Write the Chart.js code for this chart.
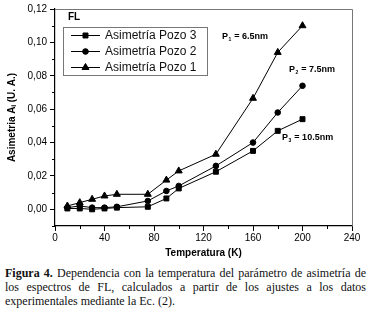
<!DOCTYPE html>
<html>
<head>
<meta charset="utf-8">
<script src="https://cdn.jsdelivr.net/npm/chart.js@4/dist/chart.umd.min.js"></script>
<style>
  html, body { margin: 0; padding: 0; background: #fff; }
  #wrap { position: relative; width: 372px; height: 262px; }
  #cap { font-family: "Liberation Serif", "Times New Roman", serif; font-size: 12px; line-height: 14px; color: #111; margin: 4px 6px 0 5px; }
  #cap div { text-align: justify; text-align-last: justify; white-space: nowrap; }
  #cap div.last { text-align-last: left; }
</style>
</head>
<body>
<div id="wrap"><canvas id="c" width="372" height="262"></canvas></div>
<div id="cap">
  <div><b>Figura 4.</b> Dependencia con la temperatura del parámetro de asimetría de</div>
  <div>los espectros de FL, calculados a partir de los ajustes a los datos</div>
  <div class="last">experimentales mediante la Ec. (2).</div>
</div>
<script>
const temps = [10, 20, 30, 40, 50, 75, 90, 100, 130, 160, 180, 200];
const pozo1 = [0.002, 0.004, 0.006, 0.008, 0.009, 0.009, 0.0175, 0.023, 0.033, 0.0665, 0.094, 0.110];
const pozo2 = [0.001, 0.002, 0.001, 0.001, 0.0015, 0.005, 0.011, 0.014, 0.026, 0.040, 0.058, 0.074];
const pozo3 = [0.0005, 0.0005, 0.000, 0.0005, 0.001, 0.0015, 0.0065, 0.0125, 0.0225, 0.035, 0.047, 0.054];
const xTicks = [0, 40, 80, 120, 160, 200, 240];
const yTicks = [0.00, 0.02, 0.04, 0.06, 0.08, 0.10, 0.12];
const xMinor = [20, 60, 100, 140, 180, 220];
const yMinor = [-0.01, 0.01, 0.03, 0.05, 0.07, 0.09, 0.11];
const seriesNames = ["Asimetría Pozo 1", "Asimetría Pozo 2", "Asimetría Pozo 3"];
const seriesShapes = ["triangle", "circle", "rect"];
const wellLabels = [
  { sub: "1", text: " = 6.5nm", x: 135, y: 0.1035 },
  { sub: "2", text: " = 7.5nm", x: 189, y: 0.0835 },
  { sub: "3", text: " = 10.5nm", x: 183.5, y: 0.043 }
];

const pts = arr => temps.map((t, i) => ({ x: t, y: arr[i] }));
const radii = { triangle: 4, circle: 2.8, rect: 3.5 };

function drawMarker(ctx, shape, x, y) {
  Chart.helpers.drawPoint(ctx, { pointStyle: shape, radius: radii[shape], rotation: 0, borderWidth: 1 }, x, y);
  ctx.fill();
}

const extras = {
  id: 'extras',
  afterDraw(chart) {
    const ctx = chart.ctx;
    const a = chart.chartArea;
    const xs = chart.scales.x, ys = chart.scales.y;
    ctx.save();
    // frame top & right
    ctx.strokeStyle = '#777';
    ctx.lineWidth = 1;
    ctx.beginPath();
    ctx.moveTo(a.left, a.top + 0.5); ctx.lineTo(a.right + 0.5, a.top + 0.5);
    ctx.lineTo(a.right + 0.5, a.bottom);
    ctx.stroke();
    // minor ticks
    ctx.strokeStyle = '#000';
    ctx.beginPath();
    xMinor.forEach(v => { const px = Math.round(xs.getPixelForValue(v)) + 0.5; ctx.moveTo(px, a.bottom); ctx.lineTo(px, a.bottom + 3); });
    yMinor.forEach(v => { const py = Math.round(ys.getPixelForValue(v)) + 0.5; ctx.moveTo(a.left, py); ctx.lineTo(a.left - 3, py); });
    ctx.stroke();
    // FL label
    ctx.fillStyle = '#000';
    ctx.font = 'bold 10px "Liberation Sans", Arial, sans-serif';
    ctx.textBaseline = 'middle';
    ctx.textAlign = 'left';
    ctx.fillText('FL', 68, 17);
    // legend box
    ctx.strokeStyle = '#777';
    ctx.strokeRect(63.5, 27.5, 144, 48);
    const order = [2, 1, 0];
    ctx.font = '12px "Liberation Sans", Arial, sans-serif';
    order.forEach((si, k) => {
      const y = 35 + k * 16;
      ctx.strokeStyle = '#000';
      ctx.beginPath();
      ctx.moveTo(71, y + 0.5); ctx.lineTo(100, y + 0.5);
      ctx.stroke();
      ctx.fillStyle = '#000';
      ctx.strokeStyle = '#000';
      drawMarker(ctx, seriesShapes[si], 85.5, y + 0.5);
      ctx.fillStyle = '#111';
      ctx.fillText(seriesNames[si], 105, y + 1);
    });
    // well-width labels
    wellLabels.forEach(l => {
      const px = xs.getPixelForValue(l.x), py = ys.getPixelForValue(l.y);
      ctx.font = 'bold 9px "Liberation Sans", Arial, sans-serif';
      ctx.fillStyle = '#000';
      ctx.fillText('P', px, py);
      const w = ctx.measureText('P').width;
      ctx.font = 'bold 5px "Liberation Sans", Arial, sans-serif';
      ctx.fillText(l.sub, px + w + 0.5, py + 3);
      const w2 = ctx.measureText(l.sub).width;
      ctx.font = 'bold 9px "Liberation Sans", Arial, sans-serif';
      ctx.fillText(l.text, px + w + w2 + 1, py);
    });
    ctx.restore();
  }
};

const mk = (i, arr) => ({
  label: seriesNames[i],
  data: pts(arr),
  borderColor: '#000',
  backgroundColor: '#000',
  borderWidth: 1,
  pointStyle: seriesShapes[i],
  pointRadius: radii[seriesShapes[i]],
  pointBorderWidth: 1,
  pointBackgroundColor: '#000',
  pointBorderColor: '#000',
  tension: 0,
  fill: false
});

new Chart(document.getElementById('c'), {
  type: 'line',
  data: { datasets: [mk(0, pozo1), mk(1, pozo2), mk(2, pozo3)] },
  plugins: [extras],
  options: {
    responsive: false,
    animation: false,
    devicePixelRatio: 1,
    layout: { padding: { left: 0, right: 20, top: 5, bottom: 0 } },
    plugins: { legend: { display: false }, tooltip: { enabled: false } },
    scales: {
      x: {
        type: 'linear', min: 0, max: 240,
        afterBuildTicks: s => { s.ticks = xTicks.map(v => ({ value: v })); },
        afterFit: s => { s.height = 36; },
        grid: { drawOnChartArea: false, drawTicks: true, tickLength: 5, color: '#000' },
        border: { color: '#000', width: 1.2 },
        ticks: { color: '#000', padding: 1, maxRotation: 0, font: { family: '"Liberation Sans", Arial, sans-serif', size: 10 } },
        title: { display: true, text: 'Temperatura (K)', color: '#000', padding: { top: 0, bottom: 3 }, font: { family: '"Liberation Sans", Arial, sans-serif', size: 10, weight: 'bold' } }
      },
      y: {
        type: 'linear', min: -0.01, max: 0.12,
        afterBuildTicks: s => { s.ticks = yTicks.map(v => ({ value: v })); },
        afterFit: s => { s.width = 55; },
        grid: { drawOnChartArea: false, drawTicks: true, tickLength: 5, color: '#000' },
        border: { color: '#000', width: 1.2 },
        ticks: { color: '#000', padding: 3, font: { family: '"Liberation Sans", Arial, sans-serif', size: 10 }, callback: v => v.toFixed(2).replace('.', ',') },
        title: { display: true, text: 'Asimetria Aᵢ (U. A.)', color: '#000', padding: { top: 6, bottom: 0 }, font: { family: '"Liberation Sans", Arial, sans-serif', size: 10, weight: 'bold' } }
      }
    }
  }
});
</script>
</body>
</html>
